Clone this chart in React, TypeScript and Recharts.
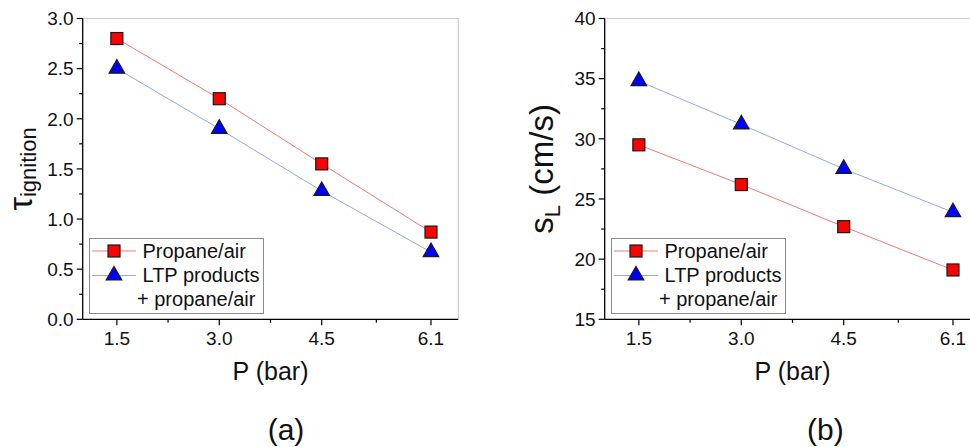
import { Label, Legend, Line, LineChart, ReferenceLine, XAxis, YAxis } from "recharts";

const FONT = '"Liberation Sans", Arial, Helvetica, sans-serif';

// pressure, bar
const pressures = [1.5, 3.0, 4.5, 6.1];
// ignition delay
const tauPropane = [2.8, 2.2, 1.55, 0.87];
const tauLtp = [2.5, 1.9, 1.28, 0.67];
// laminar flame speed, cm/s
const slPropane = [29.5, 26.2, 22.7, 19.1];
const slLtp = [34.8, 31.2, 27.5, 23.9];

const legendLabels = ["Propane/air", "LTP products", "+ propane/air"];

const xMajor = [1.5, 3.0, 4.5, 6.1];
const xMinor = [2.25, 3.75, 5.3];
const tauMajor = [0, 0.5, 1.0, 1.5, 2.0, 2.5, 3.0];
const tauMinor = [0.25, 0.75, 1.25, 1.75, 2.25, 2.75];
const slMajor = [15, 20, 25, 30, 35, 40];
const slMinor = [17.5, 22.5, 27.5, 32.5, 37.5];

const RED = "#ff0000";
const BLUE = "#0000ff";
const RED_LINE = "#f27878";
const BLUE_LINE = "#93acd6";
const EDGE = "#1a1a1a";

const W = 470;
const H = 447;
const Y_AXIS_W = 82.7;
const X_AXIS_H = 127.7;

const sorted = (a: number[], b: number[]) => [...a, ...b].sort((p, q) => p - q);

function Square({ cx, cy }: { cx: number; cy: number }) {
  return <rect x={cx - 6} y={cy - 6} width={12} height={12} fill={RED} stroke={EDGE} strokeWidth={1.2} />;
}

function Triangle({ cx, cy }: { cx: number; cy: number }) {
  const w = 15.5;
  const h = 13.5;
  return (
    <path
      d={`M${cx},${cy - (2 * h) / 3}L${cx + w / 2},${cy + h / 3}L${cx - w / 2},${cy + h / 3}Z`}
      fill={BLUE}
      stroke={EDGE}
      strokeWidth={1.2}
    />
  );
}

function makeYTick(major: number[], digits: number) {
  return (props: any) => {
    const { x, y, payload } = props;
    const isMajor = major.includes(payload.value);
    return (
      <g>
        <line x1={x} x2={x - (isMajor ? 6 : 3.5)} y1={y} y2={y} stroke="#000" strokeWidth={1.2} />
        {isMajor && (
          <text x={x - 9} y={y + 6.8} textAnchor="end" fontSize={19} fontFamily={FONT} fill="#111">
            {payload.value.toFixed(digits)}
          </text>
        )}
      </g>
    );
  };
}

function XTick(props: any) {
  const { x, y, payload } = props;
  const isMajor = xMajor.includes(payload.value);
  return (
    <g>
      <line x1={x} x2={x} y1={y} y2={y + (isMajor ? 6 : 3.5)} stroke="#000" strokeWidth={1.2} />
      {isMajor && (
        <text x={x} y={y + 26} textAnchor="middle" fontSize={19} fontFamily={FONT} fill="#111">
          {payload.value.toFixed(1)}
        </text>
      )}
    </g>
  );
}

function LegendBox() {
  return (
    <svg width={176} height={77} style={{ display: "block" }}>
      <rect x={0.5} y={0.5} width={174} height={75} fill="#fff" stroke="#8c8c8c" strokeWidth={1} />
      <line x1={3} x2={47} y1={13} y2={13} stroke={RED_LINE} strokeWidth={1} />
      <Square cx={25} cy={13} />
      <text x={53.5} y={20} fontSize={20} fontFamily={FONT} fill="#111">{legendLabels[0]}</text>
      <line x1={3} x2={47} y1={37.5} y2={37.5} stroke={BLUE_LINE} strokeWidth={1} />
      <Triangle cx={25} cy={37.5} />
      <text x={53.5} y={44} fontSize={20} fontFamily={FONT} fill="#111">{legendLabels[1]}</text>
      <text x={48} y={67.5} fontSize={20} fontFamily={FONT} fill="#111">{legendLabels[2]}</text>
    </svg>
  );
}

function TauTitle(props: any) {
  const vb = props.viewBox;
  const cx = vb.x + 32;
  const cy = vb.y + vb.height / 2;
  return (
    <text x={cx} y={cy} transform={`rotate(-90 ${cx} ${cy})`} textAnchor="middle" fontFamily={FONT} fill="#111">
      <tspan fontSize={34}>τ</tspan>
      <tspan fontSize={22} dy={4}>ignition</tspan>
    </text>
  );
}

function SlTitle(props: any) {
  const vb = props.viewBox;
  const cx = vb.x + 31.5;
  const cy = vb.y + vb.height / 2;
  return (
    <text x={cx} y={cy} transform={`rotate(-90 ${cx} ${cy})`} textAnchor="middle" fontFamily={FONT} fill="#111">
      <tspan fontSize={33}>s</tspan>
      <tspan fontSize={22} dy={6.5}>L</tspan>
      <tspan fontSize={33} dy={-6.5}> (cm/s)</tspan>
    </text>
  );
}

function makeXTitle(caption: string, captionX: number) {
  return (props: any) => {
    const vb = props.viewBox;
    return (
      <g fontFamily={FONT} fill="#111">
        <text x={vb.x + vb.width / 2} y={vb.y + 61} textAnchor="middle" fontSize={25}>
          P (bar)
        </text>
        <text x={captionX} y={vb.y + 121} textAnchor="middle" fontSize={30}>
          {caption}
        </text>
      </g>
    );
  };
}

interface PanelProps {
  propane: number[];
  ltp: number[];
  yDomain: [number, number];
  yMajor: number[];
  yMinor: number[];
  digits: number;
  title: (props: any) => any;
  caption: string;
  captionX: number;
}

function Panel({ propane, ltp, yDomain, yMajor, yMinor, digits, title, caption, captionX }: PanelProps) {
  const data = pressures.map((p, i) => ({ p, propane: propane[i], ltp: ltp[i] }));
  return (
    <LineChart width={W} height={H} data={data} margin={{ top: 18.5, right: 11.7, bottom: 0, left: 0 }}>
      <ReferenceLine y={yDomain[1]} stroke="#cccccc" strokeWidth={1.2} />
      <ReferenceLine x={6.5} stroke="#cccccc" strokeWidth={1.2} />
      <XAxis
        dataKey="p"
        type="number"
        domain={[1, 6.5]}
        allowDataOverflow
        ticks={sorted(xMajor, xMinor)}
        interval={0}
        height={X_AXIS_H}
        tickSize={0}
        tickMargin={0}
        tickLine={false}
        tick={XTick}
        axisLine={{ stroke: "#000", strokeWidth: 1.3 }}
      >
        <Label content={makeXTitle(caption, captionX)} />
      </XAxis>
      <YAxis
        type="number"
        domain={yDomain}
        allowDataOverflow
        ticks={sorted(yMajor, yMinor)}
        interval={0}
        width={Y_AXIS_W}
        tickSize={0}
        tickMargin={0}
        tickLine={false}
        tick={makeYTick(yMajor, digits)}
        axisLine={{ stroke: "#000", strokeWidth: 1.3 }}
      >
        <Label content={title} />
      </YAxis>
      <Line
        dataKey="propane"
        stroke={RED_LINE}
        strokeWidth={1}
        dot={(d: any) => <Square key={`sq-${d.index}`} cx={d.cx} cy={d.cy} />}
        isAnimationActive={false}
      />
      <Line
        dataKey="ltp"
        stroke={BLUE_LINE}
        strokeWidth={1}
        dot={(d: any) => <Triangle key={`tr-${d.index}`} cx={d.cx} cy={d.cy} />}
        isAnimationActive={false}
      />
      <Legend
        layout="horizontal"
        align="center"
        verticalAlign="middle"
        wrapperStyle={{ left: 89, top: 237.5, width: 176, height: 77 }}
        content={() => <LegendBox />}
      />
    </LineChart>
  );
}

export default function App() {
  return (
    <div
      style={{
        position: "fixed",
        left: 0,
        top: 0,
        width: 970,
        height: 447,
        overflow: "hidden",
        background: "#fff",
      }}
    >
      <div style={{ position: "absolute", left: 0, top: 0 }}>
        <Panel
          propane={tauPropane}
          ltp={tauLtp}
          yDomain={[0, 3]}
          yMajor={tauMajor}
          yMinor={tauMinor}
          digits={1}
          title={TauTitle}
          caption="(a)"
          captionX={286}
        />
      </div>
      <div style={{ position: "absolute", left: 521.6, top: 0 }}>
        <Panel
          propane={slPropane}
          ltp={slLtp}
          yDomain={[15, 40]}
          yMajor={slMajor}
          yMinor={slMinor}
          digits={0}
          title={SlTitle}
          caption="(b)"
          captionX={303.4}
        />
      </div>
    </div>
  );
}
